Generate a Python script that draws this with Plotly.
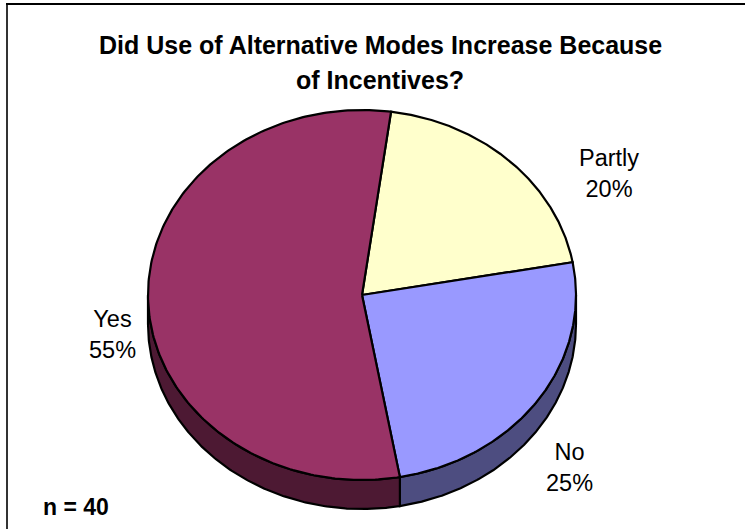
import numpy as np
import plotly.graph_objects as go

# ---- data ----
categories = ["Partly", "No", "Yes"]
values = [20, 25, 55]
top_colors = ["#FFFFCC", "#9999FF", "#993366"]
side_colors = ["#80805F", "#4D4D80", "#4D1933"]
title_lines = ["Did Use of Alternative Modes Increase Because", "of Incentives?"]
sample_note = "n = 40"

# ---- layout constants (pixels) ----
W, H = 745, 529
cx, cy = 362, 295
rx, ry = 214, 185
depth = 29
start_deg = 82.2
label_pos = {"Partly": (609, 173), "No": (569, 467), "Yes": (112, 334)}
FONT = "Liberation Sans, Arial, sans-serif"

total = sum(values)


def arc(t0, t1, dy=0, n=240):
    t = np.radians(np.linspace(t0, t1, n))
    return cx + rx * np.cos(t), cy - ry * np.sin(t) + dy


fig = go.Figure()

# slice angle spans (clockwise)
spans = []
a = start_deg
for v in values:
    b = a - 360.0 * v / total
    spans.append((a, b))
    a = b

# side walls (front half: parametric angle in [-180, 0] mod 360)
for (a, b), col in zip(spans, side_colors):
    for k in range(-2, 3):
        lo, hi = -180 + 360 * k, 0 + 360 * k
        s, e = min(a, hi), max(b, lo)
        if s > e:
            xt, yt = arc(s, e)
            xb, yb = arc(e, s, dy=depth)
            xs = np.concatenate([xt, xb, xt[:1]])
            ys = np.concatenate([yt, yb, yt[:1]])
            fig.add_trace(go.Scatter(x=xs, y=ys, mode="lines", fill="toself",
                                     fillcolor=col, line=dict(color="black", width=2.2),
                                     hoverinfo="skip"))

# top faces
for (a, b), col, name in zip(spans, top_colors, categories):
    xa, ya = arc(a, b)
    xs = np.concatenate([[cx], xa, [cx]])
    ys = np.concatenate([[cy], ya, [cy]])
    fig.add_trace(go.Scatter(x=xs, y=ys, mode="lines", fill="toself",
                             fillcolor=col, line=dict(color="black", width=2.2),
                             name=name, hoverinfo="name"))

# data labels
for name, v in zip(categories, values):
    lx, ly = label_pos[name]
    fig.add_annotation(x=lx, y=ly, xref="x", yref="y", showarrow=False,
                       text=f"{name}<br>{round(100 * v / total)}%",
                       font=dict(family=FONT, size=23.5, color="black"),
                       xanchor="center", yanchor="middle", align="center")

# title
fig.add_annotation(x=380, y=45, xref="x", yref="y", showarrow=False,
                   text=f"<b>{title_lines[0]}</b>",
                   font=dict(family=FONT, size=25, color="black"),
                   xanchor="center", yanchor="middle")
fig.add_annotation(x=380, y=80, xref="x", yref="y", showarrow=False,
                   text=f"<b>{title_lines[1]}</b>",
                   font=dict(family=FONT, size=25, color="black"),
                   xanchor="center", yanchor="middle")

# sample size note
fig.add_annotation(x=41, y=507, xref="x", yref="y", showarrow=False,
                   text=f"<b>{sample_note}</b>",
                   font=dict(family=FONT, size=23, color="black"),
                   xanchor="left", yanchor="middle")

# chart frame
fig.add_shape(type="line", xref="x", yref="y", x0=7, x1=7, y0=3, y1=H,
              line=dict(color="#333333", width=2))
fig.add_shape(type="line", xref="x", yref="y", x0=6, x1=W, y0=4, y1=4,
              line=dict(color="black", width=2))

fig.update_layout(
    width=W, height=H,
    margin=dict(l=0, r=0, t=0, b=0),
    paper_bgcolor="white", plot_bgcolor="white",
    showlegend=False,
    xaxis=dict(range=[0, W], visible=False, fixedrange=True),
    yaxis=dict(range=[H, 0], visible=False, fixedrange=True),
)

fig.write_html("out.html")
